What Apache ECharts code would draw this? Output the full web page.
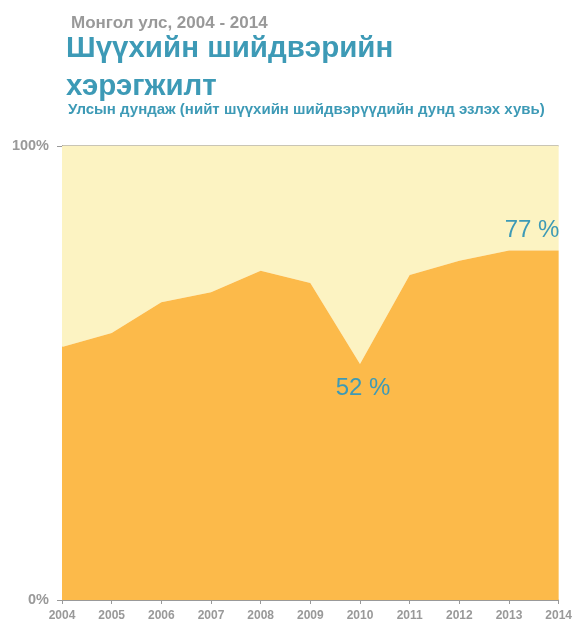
<!DOCTYPE html>
<html>
<head>
<meta charset="utf-8">
<script src="https://cdn.jsdelivr.net/npm/echarts@6/dist/echarts.min.js"></script>
<style>
  html, body { margin: 0; padding: 0; background: #fff; }
  #chart { width: 575px; height: 622px; }
</style>
</head>
<body>
<div id="chart"></div>
<script>
// ---------------------- 数据 ----------------------
const years = ['2004', '2005', '2006', '2007', '2008', '2009', '2010', '2011', '2012', '2013', '2014'];
const executed = [55.7, 58.8, 65.6, 67.8, 72.5, 69.8, 52, 71.6, 74.7, 77, 77];
const remainder = executed.map(v => +(100 - v).toFixed(1));
const labelled = { 6: '52 %', 9: '77 %' };

const teal = '#3d9ab6';
const font = 'Liberation Sans, Arial, sans-serif';

// 只给 2010 和 2013 两个点加标签
const executedData = executed.map((v, i) => {
    if (i === 6) {
        return { value: v, label: { show: true, position: 'bottom', distance: 12, offset: [3, 0], formatter: labelled[i] } };
    }
    if (i === 9) {
        return { value: v, label: { show: true, position: 'top', distance: 8, offset: [23, 0], formatter: labelled[i] } };
    }
    return v;
});

const chart = echarts.init(document.getElementById('chart'));
chart.setOption({
    animation: false,
    title: [
        {
            text: 'Монгол улс, 2004 - 2014',
            left: 71, top: 15, padding: 0,
            textStyle: { fontFamily: font, fontSize: 17, fontWeight: 'bold', color: '#999' }
        },
        {
            text: 'Шүүхийн шийдвэрийн\nхэрэгжилт',
            left: 66, top: 30, padding: 0,
            textStyle: { fontFamily: font, fontSize: 29.5, fontWeight: 'bold', color: teal, lineHeight: 38 }
        },
        {
            text: 'Улсын дундаж (нийт шүүхийн шийдвэрүүдийн дунд эзлэх хувь)',
            left: 68, top: 102, padding: 0,
            textStyle: { fontFamily: font, fontSize: 15, fontWeight: 'bold', color: teal }
        }
    ],
    grid: { left: 62, right: 14, top: 146, bottom: 19 },
    xAxis: {
        type: 'category',
        boundaryGap: false,
        data: years,
        axisLine: { lineStyle: { color: '#999' } },
        axisTick: { show: true, length: 4, lineStyle: { color: '#999' } },
        axisLabel: { color: '#999', fontFamily: font, fontSize: 12, fontWeight: 'bold', margin: 10, showMaxLabel: true }
    },
    yAxis: {
        type: 'value',
        min: 0, max: 100, interval: 100,
        axisLine: { show: true, lineStyle: { color: '#888' } },
        axisTick: { show: true, length: 5, lineStyle: { color: '#999' } },
        axisLabel: { color: '#999', fontFamily: font, fontSize: 14.5, fontWeight: 'bold', formatter: '{value}%', margin: 13 },
        splitLine: { lineStyle: { color: '#c9c5b5', width: 2 } }
    },
    series: [
        {
            name: 'executed',
            type: 'line',
            stack: 'total',
            symbol: 'circle',
            symbolSize: 1,
            showAllSymbol: true,
            itemStyle: { color: 'rgba(0,0,0,0)' },
            lineStyle: { width: 0 },
            areaStyle: { color: '#fcba4a', opacity: 1 },
            label: { color: teal, fontFamily: font, fontSize: 24 },
            data: executedData,
            z: 3
        },
        {
            name: 'rest',
            type: 'line',
            stack: 'total',
            symbol: 'none',
            lineStyle: { width: 0 },
            areaStyle: { color: '#fcf3c2', opacity: 1 },
            data: remainder,
            z: 2
        }
    ]
});
</script>
</body>
</html>
